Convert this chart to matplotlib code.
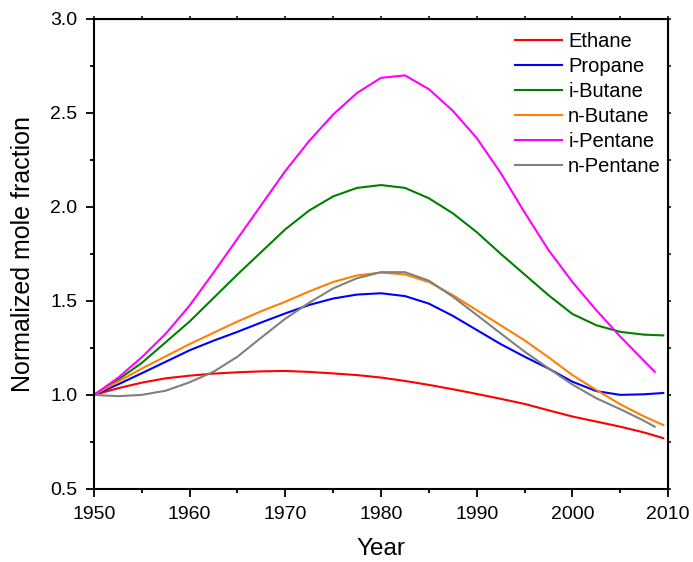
import matplotlib
matplotlib.use('Agg')
import matplotlib.pyplot as plt

plt.rcParams['font.family'] = ['Liberation Sans', 'DejaVu Sans']

years = [1950, 1952.5, 1955, 1957.5, 1960, 1962.5, 1965, 1967.5, 1970, 1972.5,
         1975, 1977.5, 1980, 1982.5, 1985, 1987.5, 1990, 1992.5, 1995, 1997.5,
         2000, 2002.5, 2005, 2007.5]
end_long = 2009.5
end_short = 2008.6

ethane = [1.0, 1.035, 1.065, 1.088, 1.102, 1.113, 1.12, 1.125, 1.127, 1.122,
          1.114, 1.105, 1.092, 1.074, 1.053, 1.03, 1.005, 0.979, 0.952, 0.918,
          0.885, 0.858, 0.831, 0.8, 0.77]
propane = [1.0, 1.055, 1.115, 1.176, 1.237, 1.288, 1.335, 1.385, 1.433, 1.478,
           1.512, 1.533, 1.54, 1.525, 1.485, 1.42, 1.345, 1.27, 1.203, 1.14,
           1.07, 1.02, 1.0, 1.003, 1.01]
i_butane = [1.0, 1.08, 1.17, 1.28, 1.39, 1.515, 1.64, 1.76, 1.88, 1.98,
            2.055, 2.1, 2.115, 2.1, 2.045, 1.965, 1.865, 1.75, 1.64, 1.53,
            1.43, 1.37, 1.335, 1.32, 1.316]
n_butane = [1.0, 1.07, 1.14, 1.205, 1.27, 1.33, 1.39, 1.445, 1.495, 1.55,
            1.6, 1.635, 1.65, 1.64, 1.6, 1.53, 1.45, 1.37, 1.29, 1.2,
            1.105, 1.026, 0.95, 0.885, 0.84]
i_pentane = [1.0, 1.09, 1.2, 1.325, 1.475, 1.65, 1.83, 2.01, 2.19, 2.35,
             2.49, 2.605, 2.685, 2.698, 2.625, 2.51, 2.365, 2.18, 1.97, 1.77,
             1.6, 1.45, 1.31, 1.18, 1.123]
n_pentane = [1.0, 0.993, 1.0, 1.022, 1.067, 1.123, 1.203, 1.305, 1.405, 1.49,
             1.566, 1.62, 1.652, 1.652, 1.607, 1.522, 1.425, 1.327, 1.23, 1.141,
             1.055, 0.982, 0.924, 0.862, 0.831]

series = [
    ('Ethane', ethane, end_long, '#ff0000'),
    ('Propane', propane, end_long, '#0000ff'),
    ('i-Butane', i_butane, end_long, '#008000'),
    ('n-Butane', n_butane, end_long, '#ff8000'),
    ('i-Pentane', i_pentane, end_short, '#ff00ff'),
    ('n-Pentane', n_pentane, end_short, '#808080'),
]

fig = plt.figure(figsize=(6.93, 5.62), dpi=100)
ax = fig.add_axes([0.1356, 0.130, 0.8284, 0.837])

for name, values, end, color in series:
    ax.plot(years + [end], values, color=color, lw=1.5, label=name,
            solid_joinstyle='round')

ax.set_xlim(1950, 2010)
ax.set_ylim(0.5, 3.0)
ax.set_xticks([1950, 1960, 1970, 1980, 1990, 2000, 2010])
ax.set_xticks(range(1955, 2010, 10), minor=True)
ax.set_yticks([0.5, 1.0, 1.5, 2.0, 2.5, 3.0])
ax.set_yticks([0.75, 1.25, 1.75, 2.25, 2.75], minor=True)
ax.set_yticklabels(['0.5', '1.0', '1.5', '2.0', '2.5', '3.0'])

for sp in ax.spines.values():
    sp.set_linewidth(1.5)
ax.tick_params(which='major', direction='out', length=6, width=1.3,
               labelsize=14, pad=6)
ax.tick_params(which='minor', direction='out', length=3, width=1.3)

# short ticks on the top and right edges, no labels
top = ax.secondary_xaxis('top')
top.set_xticks(range(1950, 2011, 5))
top.tick_params(direction='out', length=2, width=1.1, labeltop=False)
right = ax.secondary_yaxis('right')
right.set_yticks([0.5 + 0.25 * i for i in range(11)])
right.tick_params(direction='out', length=2, width=1.1, labelright=False)

ax.set_xlabel('Year', fontsize=17.5, labelpad=11)
ax.set_ylabel('Normalized mole fraction', fontsize=18, labelpad=11)

ax.legend(loc='upper left', bbox_to_anchor=(0.733, 0.972), frameon=False,
          fontsize=14.5, handlelength=2.35, handletextpad=0.3,
          labelspacing=0.3, borderpad=0, borderaxespad=0)

fig.savefig('out.png', dpi=100)
